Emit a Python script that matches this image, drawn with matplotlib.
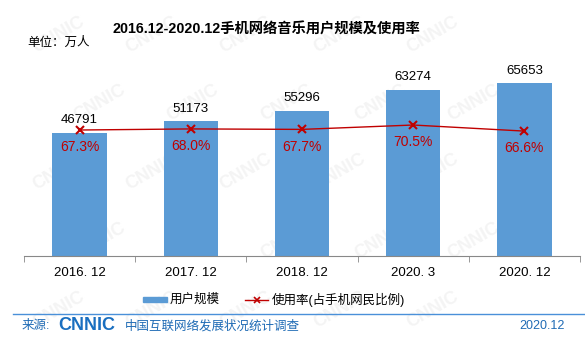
import matplotlib.pyplot as plt
import numpy as np

plt.rcParams['font.family'] = ['Liberation Sans', 'Noto Sans CJK SC', 'DejaVu Sans']

periods = ['2016. 12', '2017. 12', '2018. 12', '2020. 3', '2020. 12']
users = [46791, 51173, 55296, 63274, 65653]
rates = [67.3, 68.0, 67.7, 70.5, 66.6]

BLUE = '#5B9BD5'
RED = '#C00000'
FOOT = '#1F6BB5'

fig = plt.figure(figsize=(5.85, 3.44), dpi=100)

# faint watermark on a background axes, kept inside the picture
bg = fig.add_axes([0, 0, 1, 1], zorder=-1)
bg.axis('off')
for row, yy in enumerate(np.arange(0.1, 0.95, 0.2)):
    off = 0.07 if row % 2 else 0
    for xx in np.arange(0.1, 0.85, 0.16):
        bg.text(xx + off, yy, 'CNNIC', color='#F4F4F4', fontsize=13,
                fontweight='bold', rotation=30, ha='center', va='center')

ax = fig.add_axes([24 / 585, 88 / 344, 556 / 585, 196 / 344])
ax.patch.set_alpha(0)
x = np.arange(len(periods))
ax.bar(x, users, width=0.49, color=BLUE, zorder=2)
ax.set_xlim(-0.5, len(periods) - 0.5)
ax.set_ylim(0, 74550)
for i, v in enumerate(users):
    ax.text(i, v + 2600, str(v), ha='center', va='bottom', fontsize=9.5, color='#000000')

for s in ['top', 'right', 'left']:
    ax.spines[s].set_visible(False)
ax.spines['bottom'].set_color('#888888')
ax.set_yticks([])
ax.set_xticks(x)
ax.set_xticklabels(periods, fontsize=9.5)
ax.tick_params(axis='x', which='major', length=0, pad=8)
ax.set_xticks(np.arange(-0.5, len(periods)), minor=True)
ax.tick_params(axis='x', which='minor', length=4, color='#888888')

ax2 = ax.twinx()
ax2.set_ylim(-13.5, 112.2)
ax2.plot(x, rates, color=RED, lw=1, marker='x', ms=6, mew=1.5, zorder=3)
for i, r in enumerate(rates):
    ax2.text(i, r - 6.5, f'{r:.1f}%', ha='center', va='top', fontsize=10, color=RED)
ax2.axis('off')

fig.text(266 / 585, 1 - 30 / 344, '2016.12-2020.12手机网络音乐用户规模及使用率',
         ha='center', va='center', fontsize=10.3, fontweight='bold')
fig.text(27 / 585, 1 - 43 / 344, '单位：万人', ha='left', va='center', fontsize=9)

# legend
fig.patches.append(plt.Rectangle((143 / 585, 1 - 302 / 344), 24 / 585, 5 / 344,
                                 transform=fig.transFigure, color=BLUE))
fig.text(170 / 585, 1 - 300 / 344, '用户规模', ha='left', va='center', fontsize=9)
fig.lines.append(plt.Line2D([245 / 585, 268 / 585], [1 - 300 / 344] * 2,
                            transform=fig.transFigure, color=RED, lw=1))
fig.lines.append(plt.Line2D([256.5 / 585], [1 - 300 / 344], transform=fig.transFigure,
                            color=RED, marker='x', ms=5, mew=1.2, lw=0))
fig.text(272 / 585, 1 - 300 / 344, '使用率(占手机网民比例)', ha='left', va='center', fontsize=9)

# footer
fig.lines.append(plt.Line2D([13 / 585, 1], [1 - 314 / 344] * 2,
                            transform=fig.transFigure, color='#4A90D9', lw=1))
fig.text(22 / 585, 1 - 326 / 344, '来源:', ha='left', va='center', fontsize=9, color=FOOT)
fig.text(58 / 585, 1 - 326 / 344, 'CNNIC', ha='left', va='center', fontsize=13,
         fontweight='heavy', color='#1A6FC0')
fig.text(125 / 585, 1 - 326 / 344, '中国互联网络发展状况统计调查', ha='left', va='center',
         fontsize=9, color=FOOT)
fig.text(565 / 585, 1 - 326 / 344, '2020.12', ha='right', va='center', fontsize=9, color=FOOT)

fig.savefig('out.png', dpi=100)
